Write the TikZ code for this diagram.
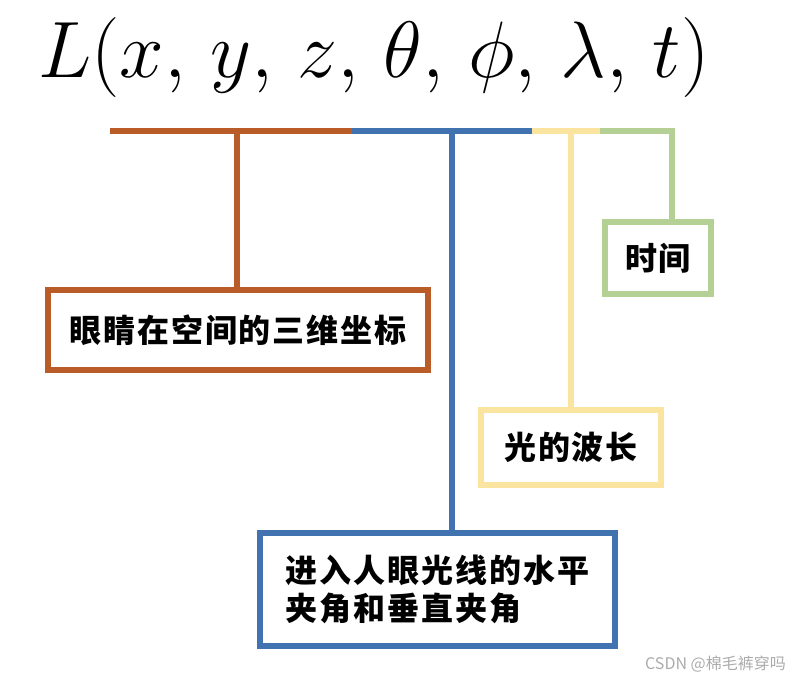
\RequirePackage{fix-cm}
\documentclass[tikz,border=0pt]{standalone}
\usepackage{fontspec}
\usepackage{tikz}
\usetikzlibrary{positioning,calc}
\newfontfamily\cjk[LetterSpace=6]{Noto Sans CJK SC}
\newfontfamily\cjkmark{Noto Sans CJK SC}
\newcommand\sep{,\mkern2.5mu}
\definecolor{rust}{RGB}{185,92,40}
\definecolor{steel}{RGB}{66,115,177}
\definecolor{sand}{RGB}{250,228,160}
\definecolor{sage}{RGB}{180,208,148}

\begin{document}
\begin{tikzpicture}[x=1pt,y=-1pt,
  lbl/.style={draw,line width=6pt,fill=white,inner sep=0pt,font=\cjk\bfseries\fontsize{32}{38}\selectfont},
  tie/.style={line width=6pt}]
\useasboundingbox (0,0) rectangle (802,682);
\node[anchor=base west,inner sep=0pt] (formula) at (38,78) {\fontsize{80}{80}\selectfont$L(x\sep y\sep z\sep \theta\sep \phi\sep \lambda\sep t)$};
% bar end points and taps
\coordinate (c0) at (110,131);
\coordinate (c1) at (352,131);
\coordinate (c2) at (532,131);
\coordinate (c3) at (600,131);
\coordinate (c4) at (672,131);
\coordinate (t1) at (237,131);
\coordinate (t2) at (452,131);
\coordinate (t3) at (571,131);
% boxes
\node[lbl,draw=rust,minimum width=380pt,minimum height=80pt] (pos) at (238,330) {眼睛在空间的三维坐标};
\node[lbl,draw=steel,minimum width=355pt,minimum height=113pt,align=left] (ang) at (437.5,589.5) {进入人眼光线的水平\\夹角和垂直夹角};
\node[lbl,draw=sand,minimum width=180pt,minimum height=75pt] (wave) at (571,447.5) {光的波长};
\node[lbl,draw=sage,minimum width=106pt,minimum height=72pt] (time) at (658,258) {时间};
% connectors
\draw[tie,rust] (c0) -- (c1);
\draw[tie,steel] (c1) -- (c2);
\draw[tie,sand] (c2) -- (c3);
\draw[tie,sage] (c3) -- (c4) -- (c4 |- time.north);
\draw[tie,rust] (t1) -- (t1 |- pos.north);
\draw[tie,steel] (t2) -- (t2 |- ang.north);
\draw[tie,sand] (t3) -- (t3 |- wave.north);
\node[anchor=east,inner sep=0pt,text=black!33,font=\cjkmark\fontsize{16}{16}\selectfont] (mark) at (786,664) {CSDN @棉毛裤穿吗};
\end{tikzpicture}
\end{document}
